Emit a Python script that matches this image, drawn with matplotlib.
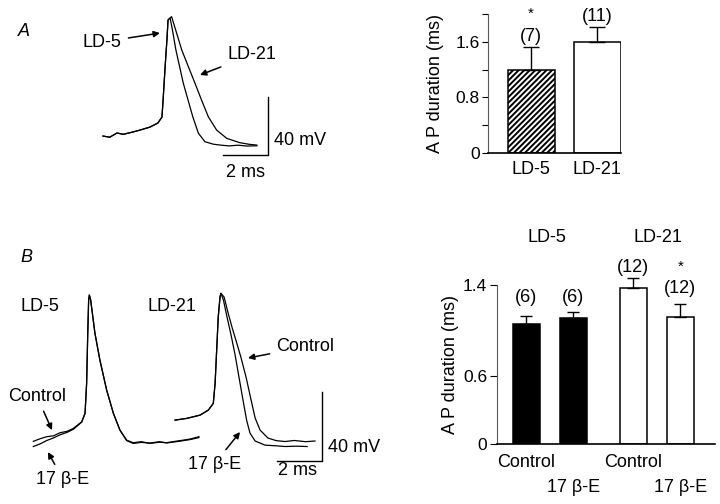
import numpy as np
import matplotlib
matplotlib.use('Agg')
import matplotlib.pyplot as plt

plt.rcParams['font.family'] = ['Liberation Sans', 'DejaVu Sans']
plt.rcParams['hatch.linewidth'] = 1.4

# ---- panel A traces (ms, mV) ----
a_rise_t = [0, 0.3, 0.62, 0.9, 1.33, 1.64, 2.09, 2.44, 2.62, 2.67, 2.76, 2.84, 2.89, 2.98]
a_rise_v = [-53.8, -54.6, -51.7, -52.6, -51.0, -49.7, -47.6, -44.8, -40.7, -29.0, -6.2, 12.4, 26.2, 27.6]
a_ld5_t = [3.07, 3.24, 3.57, 3.99, 4.24, 4.53, 4.9, 5.2, 5.6, 6.0, 6.4, 6.84]
a_ld5_v = [20.7, 5.5, -17.5, -40.5, -51.9, -57.7, -59.4, -60.0, -60.6, -60.1, -60.7, -60.5]
a_ld21_t = [3.05, 3.5, 4.09, 4.38, 4.68, 5.05, 5.5, 6.09, 6.5, 6.83]
a_ld21_v = [28.5, 5.5, -17.5, -29.0, -40.5, -49.7, -55.4, -58.4, -59.5, -60.0]

# ---- panel B traces ----
b5_ctrl_t = [0, 0.3, 0.6, 0.9, 1.19, 1.5, 1.78, 2.15, 2.3, 2.37, 2.42, 2.46, 2.49,
             2.55, 2.74, 2.96, 3.26, 3.56, 3.85, 4.15, 4.44, 4.8, 5.19, 5.6, 5.93, 6.3, 6.67, 7.0, 7.36]
b5_ctrl_v = [-59.0, -57.5, -56.3, -55.8, -54.0, -53.2, -51.5, -47.7, -42.8, -25.4, 3.6, 22.9, 25.8,
             22.9, 3.6, -11.9, -29.3, -42.8, -52.5, -58.3, -59.8, -59.2, -60.2, -59.5, -59.8, -59.0, -58.3, -57.6, -56.3]
b5_e2_t = [0, 0.3, 0.6, 0.9, 1.19, 1.5, 1.78, 2.15, 2.3, 2.37, 2.42, 2.46, 2.49,
           2.55, 2.74, 2.96, 3.26, 3.56, 3.85, 4.15, 4.44, 4.8, 5.19, 5.6, 5.93, 6.3, 6.67, 7.0, 7.36]
b5_e2_v = [-62.0, -60.5, -58.5, -57.0, -55.2, -53.8, -52.0, -47.9, -42.8, -25.4, 3.6, 22.9, 25.8,
           22.9, 3.6, -11.9, -29.3, -42.8, -52.5, -58.6, -60.2, -59.6, -60.0, -59.2, -59.9, -59.3, -58.6, -57.9, -56.8]

b21_rise_t = [0, 0.52, 1.11, 1.48, 1.7, 1.78, 1.85, 1.92, 2.0, 2.04]
b21_rise_v = [-46.7, -45.7, -43.8, -40.9, -37.0, -25.4, -6.1, 13.2, 24.8, 26.8]
b21_e2_t = [2.15, 2.31, 2.49, 2.67, 2.84, 3.02, 3.18, 3.33, 3.56, 4.0, 4.5, 4.89, 5.4, 5.87]
b21_e2_v = [22.9, 13.0, 2.6, -9.0, -21.7, -35.1, -46.7, -54.2, -58.8, -61.2, -61.6, -62.0, -61.8, -62.0]
b21_ctrl_t = [2.18, 2.36, 2.53, 2.71, 2.93, 3.16, 3.38, 3.56, 3.78, 4.13, 4.5, 4.89, 5.3, 5.8, 6.22]
b21_ctrl_v = [24.6, 15.3, 7.2, -0.6, -10.4, -22.0, -35.1, -45.5, -52.5, -57.1, -58.6, -59.1, -58.5, -59.2, -58.8]
b21_offset = 6.3

# ---- bar data ----
a_groups = ['LD-5', 'LD-21']
a_means = [1.19, 1.60]
a_sem = [0.33, 0.21]
a_n = ['(7)', '(11)']
a_sig = ['*', '']

b_labels = ['Control', '17 β-E', 'Control', '17 β-E']
b_means = [1.06, 1.11, 1.37, 1.12]
b_sem = [0.07, 0.05, 0.09, 0.11]
b_n = ['(6)', '(6)', '(12)', '(12)']
b_sig = ['', '', '', '*']
b_groups = ['LD-5', 'LD-21']

W, H = 720, 504
fig = plt.figure(figsize=(7.2, 5.04), dpi=100)


def px_axes(l, t, r, b):
    return fig.add_axes([l / W, 1 - b / H, (r - l) / W, (b - t) / H])


arrow = dict(arrowstyle='-|>', color='k', lw=1.1, mutation_scale=9, shrinkA=3, shrinkB=0)
fs = 13
tfs = 12.5

# ================= panel A traces =================
ax = px_axes(90, 10, 290, 180)
ax.set_xlim(-0.578, 8.31)
ax.set_ylim(-84.1, 33.1)
ax.axis('off')
ax.plot(a_rise_t + a_ld5_t, a_rise_v + a_ld5_v, color='k', lw=0.9)
ax.plot(a_rise_t + a_ld21_t, a_rise_v + a_ld21_v, color='k', lw=0.9)
ax.plot([5.33, 7.33, 7.33], [-66.9, -66.9, -26.9], color='k', lw=1.0)
ax.text(7.6, -57.2, '40 mV', fontsize=fs, ha='left', va='center')
ax.text(6.33, -79.0, '2 ms', fontsize=fs, ha='center', va='center')
ax.annotate('LD-5', xy=(2.53, 17.2), xytext=(-0.04, 11.0), fontsize=fs,
            ha='center', va='center', arrowprops=arrow)
ax.annotate('LD-21', xy=(4.31, -11.7), xytext=(6.62, 2.1), fontsize=fs,
            ha='center', va='center', arrowprops=arrow)
fig.text(18 / W, 1 - 31 / H, 'A', fontsize=fs, style='italic', ha='left', va='center')

# ================= panel A bars =================
ax = px_axes(488, 14, 621, 153)
xa = np.arange(len(a_groups))
ax.bar(xa, a_means, width=0.71, color=['white', 'white'], edgecolor='k', lw=1.1,
       hatch=['//////', ''])
ax.errorbar(xa, a_means, yerr=[np.zeros(len(a_means)), a_sem], fmt='none', ecolor='k',
            elinewidth=1, capsize=6, capthick=1, clip_on=False)
ax.set_xlim(-0.65, 1.36)
ax.set_ylim(0, 2.0)
ax.set_yticks([0, 0.8, 1.6])
ax.set_yticklabels(['0', '0.8', '1.6'])
ax.set_yticks([0.4, 1.2, 2.0], minor=True)
ax.tick_params(axis='y', which='both', direction='out', length=4, width=0.8, labelsize=tfs, pad=2)
ax.set_xticks(xa)
ax.set_xticklabels(a_groups, fontsize=fs)
ax.tick_params(axis='x', length=0, pad=6)
for s in ['top', 'right']:
    ax.spines[s].set_visible(False)
ax.spines['left'].set_color('0.35')
ax.spines['left'].set_linewidth(0.8)
ax.spines['bottom'].set_linewidth(1.2)
ax.set_ylabel('A P duration (ms)', fontsize=fs, labelpad=8)
for i in range(len(a_groups)):
    top = a_means[i] + a_sem[i]
    ax.text(xa[i], top + 0.15, a_n[i], fontsize=fs, ha='center', va='center')
    if a_sig[i]:
        ax.text(xa[i], top + 0.49, a_sig[i], fontsize=11, ha='center', va='center')

# ================= panel B traces =================
ax = px_axes(0, 280, 360, 480)
ax.set_xlim(-1.48, 14.52)
ax.set_ylim(-81.4, 34.5)
ax.axis('off')
ax.plot(b5_ctrl_t, b5_ctrl_v, color='k', lw=0.9)
ax.plot(b5_e2_t, b5_e2_v, color='k', lw=0.9)
t21 = np.array(b21_rise_t + b21_ctrl_t) + b21_offset
ax.plot(t21, b21_rise_v + b21_ctrl_v, color='k', lw=0.9)
t21 = np.array(b21_rise_t + b21_e2_t) + b21_offset
ax.plot(t21, b21_rise_v + b21_e2_v, color='k', lw=0.9)
ax.plot([10.82, 12.82, 12.82], [-70.3, -70.3, -30.3], color='k', lw=1.0)
ax.text(13.1, -62.3, '40 mV', fontsize=fs, ha='left', va='center')
ax.text(11.76, -75.9, '2 ms', fontsize=fs, ha='center', va='center')
ax.text(0.3, 19.4, 'LD-5', fontsize=fs, ha='center', va='center')
ax.text(6.16, 19.4, 'LD-21', fontsize=fs, ha='center', va='center')
ax.annotate('Control', xy=(0.83, -52.5), xytext=(0.16, -32.8), fontsize=fs,
            ha='center', va='center', arrowprops=arrow)
ax.annotate('17 β-E', xy=(0.65, -65.2), xytext=(1.32, -81.0), fontsize=fs,
            ha='center', va='center', arrowprops=arrow)
ax.annotate('Control', xy=(9.54, -10.7), xytext=(12.1, -4.3), fontsize=fs,
            ha='center', va='center', arrowprops=arrow)
ax.annotate('17 β-E', xy=(9.19, -53.6), xytext=(8.04, -72.2), fontsize=fs,
            ha='center', va='center', arrowprops=arrow)
fig.text(20 / W, 1 - 257 / H, 'B', fontsize=fs, style='italic', ha='left', va='center')

# ================= panel B bars =================
ax = px_axes(497, 285, 715, 444)
xb = [0, 1, 2.28, 3.28]
ax.bar(xb, b_means, width=0.57, color=['k', 'k', 'white', 'white'], edgecolor='k', lw=1.1)
ax.errorbar(xb, b_means, yerr=[np.zeros(len(b_means)), b_sem], fmt='none', ecolor='k',
            elinewidth=1, capsize=4, capthick=1, clip_on=False)
ax.set_xlim(-0.62, 4.02)
ax.set_ylim(0, 1.4)
ax.set_yticks([0, 0.6, 1.4])
ax.set_yticklabels(['0', '0.6', '1.4'])
ax.tick_params(axis='y', direction='out', length=5, width=0.8, labelsize=tfs, pad=2)
ax.set_xticks([])
for s in ['top', 'right']:
    ax.spines[s].set_visible(False)
ax.spines['left'].set_color('0.35')
ax.spines['left'].set_linewidth(0.8)
ax.spines['bottom'].set_linewidth(1.2)
ax.set_ylabel('A P duration (ms)', fontsize=fs, labelpad=3)
for i in range(len(b_means)):
    ax.text(xb[i], -0.16 if i % 2 == 0 else -0.38, b_labels[i], fontsize=fs,
            ha='center', va='center')
ax.text(xb[0], 1.29, b_n[0], fontsize=fs, ha='center', va='center')
ax.text(xb[1], 1.29, b_n[1], fontsize=fs, ha='center', va='center')
ax.text(xb[2], 1.55, b_n[2], fontsize=fs, ha='center', va='center')
ax.text(xb[3], 1.365, b_n[3], fontsize=fs, ha='center', va='center')
ax.text(xb[3], 1.56, b_sig[3], fontsize=11, ha='center', va='center')
ax.text(0.45, 1.82, b_groups[0], fontsize=fs, ha='center', va='center')
ax.text(2.81, 1.82, b_groups[1], fontsize=fs, ha='center', va='center')

fig.savefig('out.png', dpi=100)
